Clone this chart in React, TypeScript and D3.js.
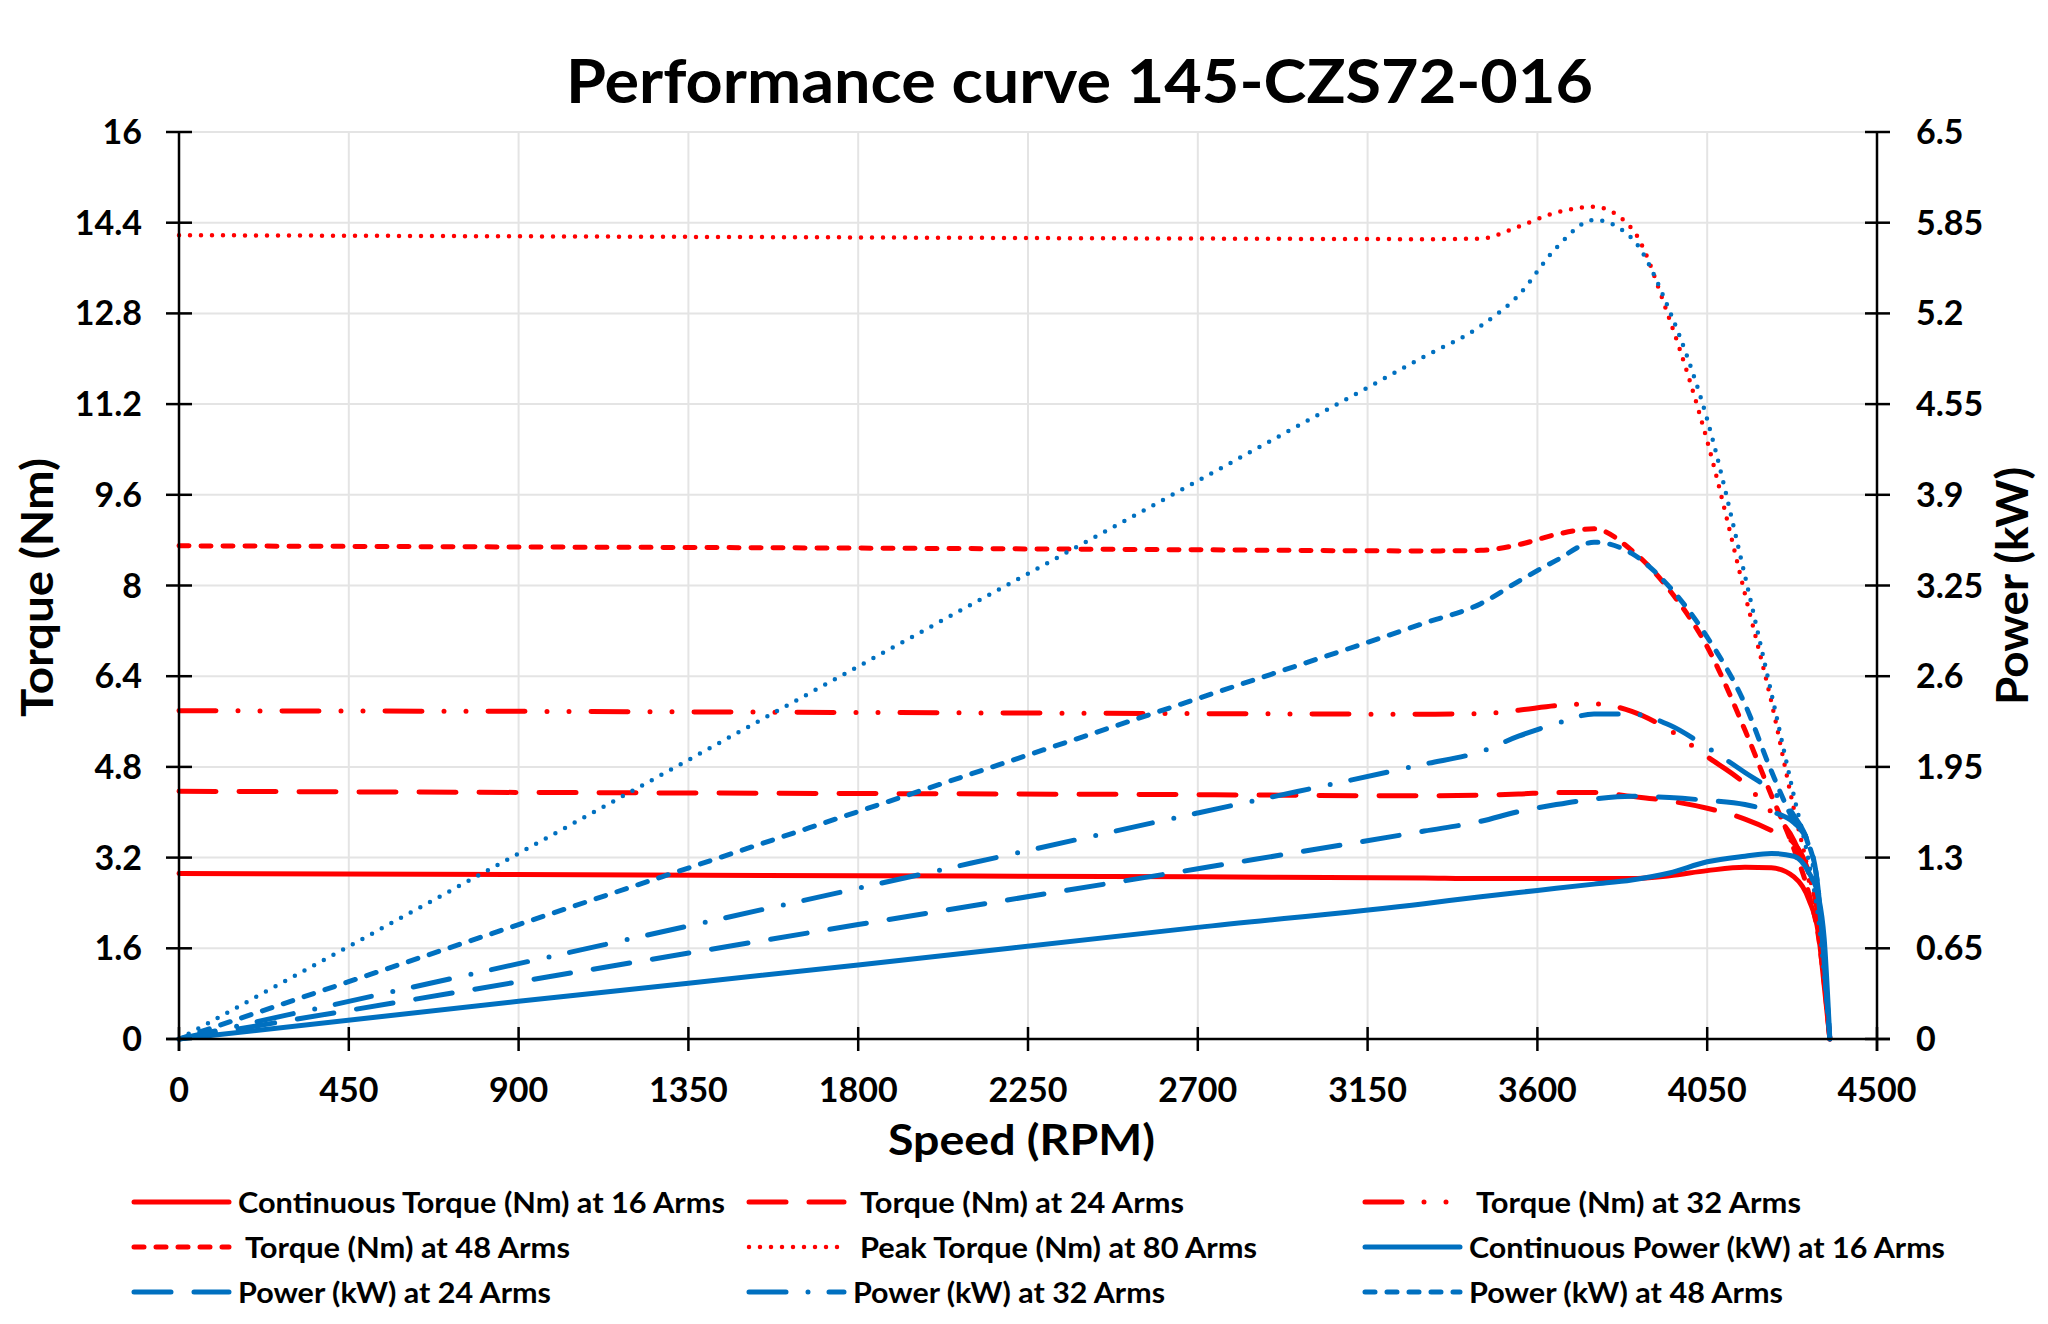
import React, { useEffect, useRef } from 'react';
import * as d3 from 'd3';

const WIDTH = 2048;
const HEIGHT = 1324;

// speed samples (RPM) shared by every series
const speed = [0, 900, 1800, 2700, 3300, 3450, 3550, 3650, 3750, 3850, 3950, 4050, 4150, 4220, 4280, 4320, 4345, 4360, 4375];

// torque (Nm)
const torque16 = [2.92, 2.90, 2.88, 2.86, 2.84, 2.83, 2.83, 2.83, 2.83, 2.83, 2.88, 2.97, 3.03, 3.02, 2.86, 2.45, 1.85, 0.95, 0];
const torque24 = [4.37, 4.35, 4.33, 4.31, 4.29, 4.30, 4.32, 4.35, 4.35, 4.28, 4.20, 4.07, 3.88, 3.68, 3.45, 2.90, 2.10, 1.10, 0];
const torque32 = [5.79, 5.78, 5.76, 5.74, 5.73, 5.74, 5.80, 5.88, 5.91, 5.78, 5.45, 4.98, 4.50, 4.00, 3.50, 2.80, 2.00, 1.10, 0];
const torque48 = [8.70, 8.68, 8.66, 8.63, 8.61, 8.62, 8.72, 8.90, 9.00, 8.62, 7.92, 6.92, 5.45, 4.30, 3.35, 2.55, 1.80, 1.00, 0];
const torque80 = [14.18, 14.16, 14.14, 14.12, 14.11, 14.12, 14.33, 14.58, 14.68, 14.30, 12.70, 10.55, 7.85, 5.95, 4.05, 2.90, 2.05, 1.00, 0];

// power (kW)
const power16 = [0, 0.27, 0.53, 0.80, 0.97, 1.02, 1.05, 1.08, 1.11, 1.14, 1.19, 1.27, 1.31, 1.33, 1.31, 1.19, 1.02, 0.72, 0];
const power24 = [0, 0.41, 0.82, 1.22, 1.49, 1.56, 1.63, 1.68, 1.72, 1.74, 1.73, 1.71, 1.68, 1.63, 1.55, 1.40, 1.05, 0.55, 0];
const power32 = [0, 0.54, 1.08, 1.62, 1.97, 2.06, 2.17, 2.26, 2.33, 2.33, 2.25, 2.09, 1.91, 1.78, 1.60, 1.37, 1.00, 0.55, 0];
const power48 = [0, 0.82, 1.63, 2.44, 2.98, 3.12, 3.28, 3.43, 3.56, 3.48, 3.24, 2.88, 2.40, 1.92, 1.56, 1.39, 1.05, 0.55, 0];
const power80 = [0, 1.33, 2.67, 4.00, 4.89, 5.11, 5.33, 5.67, 5.87, 5.74, 5.22, 4.44, 3.32, 2.48, 1.74, 1.26, 0.85, 0.45, 0];

// ticks
const speedTicks = [0, 450, 900, 1350, 1800, 2250, 2700, 3150, 3600, 4050, 4500];
const torqueTicks = [0, 1.6, 3.2, 4.8, 6.4, 8, 9.6, 11.2, 12.8, 14.4, 16];
const powerTicks = [0, 0.65, 1.3, 1.95, 2.6, 3.25, 3.9, 4.55, 5.2, 5.85, 6.5];

// legend order (3 columns, row-major)
const seriesNames = [
  'Continuous Torque (Nm) at 16 Arms',
  ' Torque (Nm) at 24 Arms',
  ' Torque (Nm) at 32 Arms',
  ' Torque (Nm) at 48 Arms',
  ' Peak Torque (Nm) at 80 Arms',
  'Continuous Power (kW) at 16 Arms',
  'Power (kW) at 24 Arms',
  'Power (kW) at 32 Arms',
  'Power (kW) at 48 Arms',
];

const RED = '#ff0000';
const BLUE = '#0070c0';
const FONT = 'Lato, "Open Sans", sans-serif';

const App: React.FC = () => {
  const svgRef = useRef<SVGSVGElement>(null);

  useEffect(() => {
    document.body.style.margin = '0';
    const svg = d3.select(svgRef.current);
    svg.selectAll('*').remove();

    const left = 179, right = 1877, top = 132, bottom = 1039;
    const x = d3.scaleLinear().domain([0, 4500]).range([left, right]);
    const yT = d3.scaleLinear().domain([0, 16]).range([bottom, top]);
    const yP = d3.scaleLinear().domain([0, 6.5]).range([bottom, top]);

    // grid
    const grid = svg.append('g').attr('stroke', '#e4e4e4').attr('stroke-width', 2);
    grid.selectAll('line.v').data(speedTicks.slice(1, -1)).join('line')
      .attr('x1', (d) => x(d)).attr('x2', (d) => x(d)).attr('y1', top).attr('y2', bottom);
    grid.selectAll('line.h').data(torqueTicks.slice(1)).join('line')
      .attr('x1', left).attr('x2', right).attr('y1', (d) => yT(d)).attr('y2', (d) => yT(d));

    const styles = [
      { data: torque16, y: yT, color: RED, dash: null, w: 5 },
      { data: torque24, y: yT, color: RED, dash: '37,23', w: 5 },
      { data: torque32, y: yT, color: RED, dash: '37,22,0,22,0,22', w: 5 },
      { data: torque48, y: yT, color: RED, dash: '10,12', w: 5 },
      { data: torque80, y: yT, color: RED, dash: '0,11', w: 4.5 },
      { data: power16, y: yP, color: BLUE, dash: null, w: 5 },
      { data: power24, y: yP, color: BLUE, dash: '37,23', w: 5 },
      { data: power32, y: yP, color: BLUE, dash: '37,22,0,21', w: 5 },
      { data: power48, y: yP, color: BLUE, dash: '10,12', w: 5 },
    ];
    // peak power is drawn with the dotted style too (not in legend)
    const peakPower = { data: power80, y: yP, color: BLUE, dash: '0,11', w: 4.5 };

    const drawOrder = [...styles, peakPower];

    const lines = svg.append('g').attr('fill', 'none').attr('stroke-linecap', 'round').attr('stroke-linejoin', 'round');
    drawOrder.forEach((s) => {
      const line = d3.line<number>()
        .x((_, i) => x(speed[i]))
        .y((d) => s.y(d))
        .curve(d3.curveMonotoneX);
      lines.append('path')
        .attr('d', line(s.data))
        .attr('stroke', s.color)
        .attr('stroke-width', s.w)
        .attr('stroke-dasharray', s.dash);
    });

    // axes
    const axes = svg.append('g').attr('stroke', '#000').attr('stroke-width', 2.5);
    axes.append('line').attr('x1', left - 13).attr('x2', right + 13).attr('y1', bottom).attr('y2', bottom);
    axes.append('line').attr('x1', left).attr('x2', left).attr('y1', top).attr('y2', bottom + 12);
    axes.append('line').attr('x1', right).attr('x2', right).attr('y1', top).attr('y2', bottom + 12);
    axes.selectAll('line.tx').data(speedTicks).join('line')
      .attr('x1', (d) => x(d)).attr('x2', (d) => x(d)).attr('y1', bottom - 12).attr('y2', bottom + 12);
    axes.selectAll('line.tl').data(torqueTicks).join('line')
      .attr('x1', left - 13).attr('x2', left + 13).attr('y1', (d) => yT(d)).attr('y2', (d) => yT(d));
    axes.selectAll('line.tr').data(powerTicks).join('line')
      .attr('x1', right - 12).attr('x2', right + 13).attr('y1', (d) => yP(d)).attr('y2', (d) => yP(d));

    const text = svg.append('g').attr('font-family', FONT).attr('font-weight', 700).attr('fill', '#000');

    text.selectAll('text.xt').data(speedTicks).join('text')
      .attr('x', (d) => x(d)).attr('y', bottom + 63)
      .attr('text-anchor', 'middle').attr('font-size', 34)
      .text((d) => String(d));
    text.selectAll('text.yl').data(torqueTicks).join('text')
      .attr('x', 142).attr('y', (d) => yT(d) + 12)
      .attr('text-anchor', 'end').attr('font-size', 34)
      .text((d) => String(d));
    text.selectAll('text.yr').data(powerTicks).join('text')
      .attr('x', 1916).attr('y', (d) => yP(d) + 12)
      .attr('text-anchor', 'start').attr('font-size', 34)
      .text((d) => String(d));

    text.append('text')
      .attr('x', 1079.5).attr('y', 103).attr('text-anchor', 'middle').attr('font-size', 62)
      .attr('textLength', 1027).attr('lengthAdjust', 'spacingAndGlyphs')
      .text('Performance curve 145-CZS72-016');
    text.append('text')
      .attr('x', 1021.5).attr('y', 1155).attr('text-anchor', 'middle').attr('font-size', 42)
      .attr('textLength', 267).attr('lengthAdjust', 'spacingAndGlyphs')
      .text('Speed (RPM)');
    text.append('text')
      .attr('transform', 'translate(53,587.5) rotate(-90)').attr('text-anchor', 'middle').attr('font-size', 44)
      .attr('textLength', 259).attr('lengthAdjust', 'spacingAndGlyphs')
      .text('Torque (Nm)');
    text.append('text')
      .attr('transform', 'translate(2028,586) rotate(-90)').attr('text-anchor', 'middle').attr('font-size', 44)
      .attr('textLength', 238).attr('lengthAdjust', 'spacingAndGlyphs')
      .text('Power (kW)');

    // legend
    const colX = [134, 749, 1365];
    const rowY = [1202, 1247, 1292];
    const labelWidths = [487, 324, 325, 325, 397, 476, 313, 312, 314];
    const legend = svg.append('g');
    seriesNames.forEach((name, i) => {
      const s = styles[i];
      const lx = colX[i % 3];
      const ly = rowY[Math.floor(i / 3)];
      legend.append('line')
        .attr('x1', lx).attr('x2', lx + 95).attr('y1', ly).attr('y2', ly)
        .attr('stroke', s.color).attr('stroke-width', s.w)
        .attr('stroke-linecap', 'round')
        .attr('stroke-dasharray', s.dash);
      const lead = name.startsWith(' ') ? 7 : 0;
      legend.append('text')
        .attr('x', lx + 104 + lead).attr('y', ly + 10.5)
        .attr('font-family', FONT).attr('font-weight', 700).attr('font-size', 29)
        .attr('textLength', labelWidths[i]).attr('lengthAdjust', 'spacingAndGlyphs')
        .text(name.trim());
    });

    return () => {
      svg.selectAll('*').remove();
    };
  }, []);

  return (
    <svg
      ref={svgRef}
      width={WIDTH}
      height={HEIGHT}
      style={{ position: 'absolute', left: 0, top: 0, background: '#fff' }}
    />
  );
};

export default App;
